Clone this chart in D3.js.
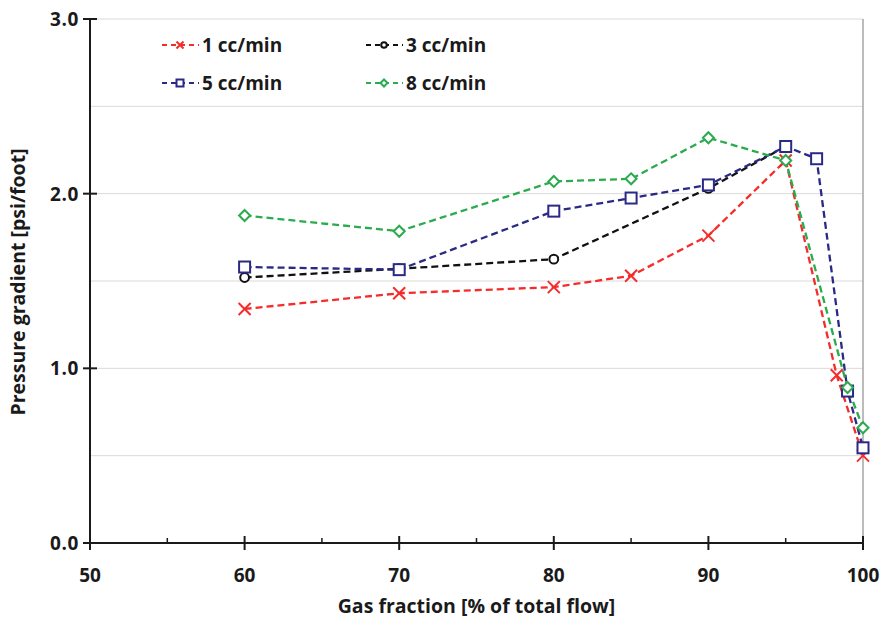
<!DOCTYPE html>
<html>
<head>
<meta charset="utf-8">
<script src="https://cdn.jsdelivr.net/npm/d3@7"></script>
<style>
  body { margin:0; background:#fff; }
  text { font-family: "Open Sans", "Noto Sans", sans-serif; font-weight:700; }
</style>
</head>
<body>
<svg id="chart" width="886" height="618"></svg>
<script>
// data
const xTicks = [50, 60, 70, 80, 90, 100];
const yTicks = [0, 1, 2, 3];
const seriesNames = ["1 cc/min", "3 cc/min", "5 cc/min", "8 cc/min"];

const gas1 = [60, 70, 80, 85, 90, 95, 98.3, 100];
const val1 = [1.34, 1.43, 1.465, 1.53, 1.76, 2.19, 0.96, 0.50];

const gas3 = [60, 70, 80, 90, 95];
const val3 = [1.52, 1.57, 1.625, 2.03, 2.27];

const gas5 = [60, 70, 80, 85, 90, 95, 97, 99, 100];
const val5 = [1.58, 1.565, 1.90, 1.975, 2.05, 2.27, 2.20, 0.87, 0.545];

const gas8 = [60, 70, 80, 85, 90, 95, 99, 100];
const val8 = [1.875, 1.785, 2.07, 2.085, 2.32, 2.19, 0.89, 0.66];

const colors = ["#f52c2c", "#111111", "#2a2a86", "#2bab4e"];
const shapes = ["x", "circle", "square", "diamond"];

let series = [
  {gas: gas1, val: val1},
  {gas: gas3, val: val3},
  {gas: gas5, val: val5},
  {gas: gas8, val: val8}
].map(function(s, i){
  return {name: seriesNames[i], color: colors[i], shape: shapes[i],
    pts: s.gas.map(function(g, j){ return [g, s.val[j]]; })};
});

const svg = d3.select("#chart");
const mLeft = 90, mRight = 863, mTop = 19, mBottom = 543;

const x = d3.scaleLinear().domain([50, 100]).range([mLeft, mRight]);
const y = d3.scaleLinear().domain([0, 3]).range([mBottom, mTop]);

// grid every 0.5
svg.append("g")
  .selectAll("line")
  .data(d3.range(0.5, 3.01, 0.5))
  .enter()
  .append("line")
  .attr("x1", mLeft).attr("x2", mRight)
  .attr("y1", function(d){ return y(d); })
  .attr("y2", function(d){ return y(d); })
  .attr("stroke", "#d9d9d9")
  .attr("stroke-width", 1);

// right border
svg.append("line")
  .attr("x1", mRight).attr("x2", mRight)
  .attr("y1", mTop).attr("y2", mBottom)
  .attr("stroke", "#a6a6a6").attr("stroke-width", 1.5);

// x axis
const xAxis = svg.append("g").attr("transform", "translate(0," + mBottom + ")");
xAxis.append("line").attr("x1", mLeft).attr("x2", mRight).attr("stroke", "#1a1a1a").attr("stroke-width", 2);
xAxis.selectAll(".maj")
  .data(xTicks)
  .enter()
  .append("line")
  .attr("x1", function(d){ return x(d); })
  .attr("x2", function(d){ return x(d); })
  .attr("y1", -7).attr("y2", 7)
  .attr("stroke", "#1a1a1a").attr("stroke-width", 2);
xAxis.selectAll(".min")
  .data([55, 65, 75, 85, 95])
  .enter()
  .append("line")
  .attr("x1", function(d){ return x(d); })
  .attr("x2", function(d){ return x(d); })
  .attr("y1", -5).attr("y2", 0)
  .attr("stroke", "#1a1a1a").attr("stroke-width", 1.5);
xAxis.selectAll("text")
  .data(xTicks)
  .enter()
  .append("text")
  .attr("x", function(d){ return x(d); })
  .attr("y", 39)
  .attr("text-anchor", "middle")
  .attr("font-size", 19)
  .attr("fill", "#1a1a1a")
  .text(function(d){ return d; });

// y axis
const yAxis = svg.append("g").attr("transform", "translate(" + mLeft + ",0)");
yAxis.append("line").attr("y1", mTop).attr("y2", mBottom).attr("stroke", "#1a1a1a").attr("stroke-width", 2);
yAxis.selectAll(".maj")
  .data(yTicks)
  .enter()
  .append("line")
  .attr("y1", function(d){ return y(d); })
  .attr("y2", function(d){ return y(d); })
  .attr("x1", -7).attr("x2", 7)
  .attr("stroke", "#1a1a1a").attr("stroke-width", 2);
yAxis.selectAll("text")
  .data(yTicks)
  .enter()
  .append("text")
  .attr("x", -11)
  .attr("y", function(d){ return y(d) + 7; })
  .attr("text-anchor", "end")
  .attr("font-size", 19)
  .attr("letter-spacing", 0.6)
  .attr("fill", "#1a1a1a")
  .text(function(d){ return d3.format(".1f")(d); });

// axis titles
svg.append("text")
  .attr("x", (mLeft + mRight) / 2).attr("y", 613)
  .attr("text-anchor", "middle").attr("font-size", 19.5).attr("fill", "#1a1a1a")
  .text("Gas fraction [% of total flow]");
svg.append("text")
  .attr("transform", "translate(25,282) rotate(-90)")
  .attr("text-anchor", "middle").attr("font-size", 19.5).attr("fill", "#1a1a1a")
  .text("Pressure gradient [psi/foot]");

function drawMarker(g, shape, color, size){
  let h = size / 2;
  if (shape == "x") {
    g.append("path").attr("d", "M" + (-h) + "," + (-h) + "L" + h + "," + h + "M" + (-h) + "," + h + "L" + h + "," + (-h))
      .attr("stroke", color).attr("stroke-width", 2).attr("fill", "none");
  } else if (shape == "circle") {
    g.append("circle").attr("r", h * 0.8).attr("fill", "#fff").attr("stroke", color).attr("stroke-width", 2);
  } else if (shape == "square") {
    g.append("rect").attr("x", -h).attr("y", -h).attr("width", size).attr("height", size)
      .attr("fill", "#fff").attr("stroke", color).attr("stroke-width", 2);
  } else {
    g.append("path").attr("d", "M0," + (-h) + "L" + h + ",0L0," + h + "L" + (-h) + ",0Z")
      .attr("fill", "#fff").attr("stroke", color).attr("stroke-width", 2);
  }
}

const line = d3.line().x(function(d){ return x(d[0]); }).y(function(d){ return y(d[1]); });

const plot = svg.append("g");
series.forEach(function(s){
  plot.append("path")
    .attr("d", line(s.pts))
    .attr("fill", "none")
    .attr("stroke", s.color)
    .attr("stroke-width", 2.3)
    .attr("stroke-dasharray", "7,4");
});
series.forEach(function(s){
  plot.selectAll(null)
    .data(s.pts)
    .enter()
    .append("g")
    .attr("transform", function(d){ return "translate(" + x(d[0]) + "," + y(d[1]) + ")"; })
    .each(function(){ drawMarker(d3.select(this), s.shape, s.color, s.shape == "x" ? 12 : 11); });
});

// legend
const legPos = [[162, 45], [366, 45], [162, 83], [366, 83]];
series.forEach(function(s, i){
  let g = svg.append("g").attr("transform", "translate(" + legPos[i][0] + "," + legPos[i][1] + ")");
  g.append("line").attr("x1", 0).attr("x2", 37).attr("y1", 0).attr("y2", 0)
    .attr("stroke", s.color).attr("stroke-width", 2.2).attr("stroke-dasharray", "5,4");
  let m = g.append("g").attr("transform", "translate(18,0)");
  drawMarker(m, s.shape, s.color, 7);
  g.append("text").attr("x", 40).attr("y", 7).attr("font-size", 19).attr("fill", "#1a1a1a").text(s.name);
});
</script>
</body>
</html>
